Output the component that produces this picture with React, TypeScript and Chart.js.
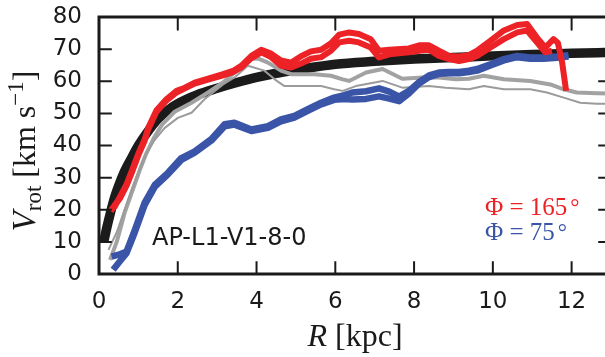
import React, { useEffect, useRef } from "react";
import { Chart, registerables } from "chart.js";

Chart.register(...registerables);

// ---- axes ----
const X_TICKS = [0, 2, 4, 6, 8, 10, 12];
const Y_TICKS = [0, 10, 20, 30, 40, 50, 60, 70, 80];
const X_MIN = 0;
const X_MAX = 13;
const Y_MIN = 0;
const Y_MAX = 80;

// ---- model curve (black) ----
const modelR = [0.12, 0.2, 0.3, 0.4, 0.5, 0.65, 0.8, 1.0, 1.25, 1.5, 1.75, 2.0, 2.5, 3.0, 3.5, 4.0, 4.5, 5.0, 6.0, 7.0, 8.0, 9.0, 10.0, 11.0, 12.0, 13.0];
const modelV = [10, 14.5, 19.5, 24, 27.5, 32, 35.5, 40, 44.5, 48.3, 51, 53, 55.8, 57.8, 59.6, 61.2, 62.5, 63.5, 65.3, 66.2, 66.9, 67.4, 67.9, 68.3, 68.7, 69.0];

// ---- Phi = 165 deg (red, two curves) ----
const redAR = [0.30, 0.40, 0.53, 0.70, 0.83, 1.0, 1.16, 1.25, 1.46, 1.71, 1.97, 2.18, 2.43, 2.77, 3.15, 3.40, 3.61, 3.87, 4.12, 4.37, 4.62, 4.88, 5.13, 5.38, 5.64, 5.89, 6.1, 6.35, 6.6, 6.9, 7.11, 7.37, 7.87, 8.13, 8.38, 8.63, 8.89, 9.14, 9.39, 9.6, 9.94, 10.28, 10.62, 10.87, 11.12, 11.33, 11.54, 11.65, 11.76, 11.86];
const redAV = [20, 21, 24, 28, 32, 37.5, 42, 45.5, 51, 54.4, 57, 58, 59.6, 60.8, 62.2, 63.2, 64.8, 67.9, 69.8, 68.6, 66.5, 65.8, 67.8, 69.3, 69.8, 71.8, 74.5, 75.2, 74.7, 73.1, 69.5, 69.8, 70.2, 71.2, 71.2, 69.5, 67.9, 67.7, 68.1, 69.5, 72.6, 75.8, 77.5, 77.8, 73.6, 70.5, 73.1, 72, 65.8, 57];
const redBR = [0.30, 0.40, 0.53, 0.70, 0.83, 1.0, 1.16, 1.25, 1.46, 1.71, 1.97, 2.18, 2.43, 2.77, 3.15, 3.40, 3.61, 3.87, 4.12, 4.37, 4.62, 4.88, 5.13, 5.38, 5.64, 5.89, 6.1, 6.35, 6.6, 6.9, 7.11, 7.37, 7.87, 8.13, 8.38, 8.63, 8.89, 9.14, 9.39, 9.6, 9.94, 10.28, 10.62, 10.87, 11.12, 11.33, 11.5];
const redBV = [19.5, 21.5, 23.5, 27.5, 31.5, 37, 41.5, 45, 50.5, 54, 56.5, 57.8, 59.3, 60.5, 61.8, 62.8, 64.3, 67.2, 69, 67.5, 64.8, 64.3, 65.5, 67, 67.5, 69.5, 72.1, 72.6, 72.1, 70.5, 67.4, 68.4, 69, 69.5, 69.8, 67.9, 66.9, 66.3, 66.9, 67.9, 70.5, 73.1, 75.2, 75.8, 72.1, 69, 69.5];

// ---- Phi = 75 deg (blue, two curves) ----
const blueAR = [0.32, 0.5, 0.7, 0.91, 1.16, 1.42, 1.75, 2.09, 2.43, 2.85, 3.19, 3.44, 3.87, 4.29, 4.62, 4.96, 5.3, 5.64, 5.97, 6.23, 6.43, 6.78, 7.11, 7.37, 7.62, 7.87, 8.13, 8.38, 8.63, 8.89, 9.14, 9.39, 9.6, 9.94, 10.28, 10.62, 10.95, 11.29, 11.63, 11.92];
const blueAV = [5.4, 6, 7, 13.7, 22.2, 27.8, 31.5, 36.1, 38.2, 42, 46.6, 47.1, 45, 46, 48.1, 49.2, 51.3, 53.3, 54.9, 55.7, 56.5, 56.9, 57.8, 56.8, 55.2, 57, 59.8, 61.8, 62.7, 62.9, 62.9, 63.3, 63.8, 65.3, 66.9, 67.9, 67.4, 67.4, 67.7, 68.1];
const blueBR = [0.36, 0.5, 0.7, 0.91, 1.16, 1.42, 1.75, 2.09, 2.43, 2.85, 3.19, 3.44, 3.87, 4.29, 4.62, 4.96, 5.3, 5.64, 5.97, 6.23, 6.43, 6.78, 7.11, 7.37, 7.62, 7.87, 8.13, 8.38, 8.63, 8.89, 9.14, 9.39, 9.6, 9.94, 10.28, 10.62, 10.95, 11.29, 11.63, 11.92];
const blueBV = [1.3, 3.5, 6.5, 13, 21.5, 27.2, 31, 35.5, 37.8, 41.5, 46, 46.5, 44.5, 45.5, 47.5, 48.7, 50.8, 52.8, 54.2, 54.5, 54.3, 54.5, 55.3, 54.6, 53.8, 56.2, 59.3, 61.3, 62.3, 62.5, 62.5, 62.9, 63.3, 64.9, 66.5, 67.5, 67, 67, 67.3, 67.7];

// ---- gray curves ----
const grayThickR = [0.28, 0.45, 0.65, 0.85, 1.04, 1.2, 1.4, 1.6, 1.92, 2.35, 2.77, 3.15, 3.44, 3.87, 4.03, 4.29, 4.62, 4.88, 5.47, 5.89, 6.19, 6.35, 6.78, 7.2, 7.7, 8.21, 8.63, 9.06, 9.39, 9.77, 10.28, 10.95, 11.46, 11.8, 12.13, 12.64, 13.0];
const grayThickV = [4.4, 10, 19, 26, 32.5, 37.5, 42.5, 46.5, 50.5, 53.3, 56.5, 59.6, 62.7, 66.9, 67.1, 65.8, 63.3, 62.2, 62.2, 61.7, 60.6, 60.1, 62.7, 63.8, 60.8, 61.2, 61.2, 60.6, 60.8, 61.7, 60.6, 60.1, 59, 57.5, 56.5, 56.3, 56.2];
const grayThinR = [0.24, 0.45, 0.65, 0.85, 1.04, 1.2, 1.4, 1.67, 2.0, 2.35, 2.68, 3.15, 3.44, 3.78, 4.2, 4.46, 4.71, 5.13, 5.64, 5.97, 6.19, 6.52, 7.2, 7.7, 8.38, 8.8, 9.39, 9.77, 10.28, 10.95, 11.37, 11.8, 12.22, 12.64, 13.0];
const grayThinV = [7.5, 13, 20, 27, 33, 37.5, 41.5, 45.5, 48.6, 50.2, 54.4, 59, 61.2, 64.8, 63.3, 60.6, 58.5, 58.5, 58.5, 57.5, 57, 58.5, 60.1, 58, 58.5, 58, 57.5, 58.5, 57.5, 57.5, 56.5, 54.9, 53.3, 53, 53];

// ---- texts ----
const RUN_LABEL = "AP-L1-V1-8-0";
const LEGEND_RED = "Φ = 165";
const LEGEND_BLUE = "Φ = 75";

// ---- styles ----
const INK = "#1a1a1a";
const RED = "#ec2227";
const BLUE = "#3a55a7";
const GRAY_THICK = "#a2a2a2";
const GRAY_THIN = "#9b9b9b";
const BLACK = "#1b1b1b";
const TICK_FRACTION = 0.05; // inward tick length as a fraction of the axis span

const SERIF = "'Liberation Serif', 'DejaVu Serif', serif";
const SANS = "'DejaVu Sans', sans-serif";

const pts = (r: number[], v: number[]) => r.map((x, i) => ({ x, y: v[i] }));

// axes frame (spines) as a closed line through the axis limits
const frameData = () => [
  { x: X_MIN, y: Y_MIN },
  { x: X_MAX, y: Y_MIN },
  { x: X_MAX, y: Y_MAX },
  { x: X_MIN, y: Y_MAX },
  { x: X_MIN, y: Y_MIN },
];

// inward tick marks on all four spines, built from the tick lists
const tickData = () => {
  const tx = (X_MAX - X_MIN) * TICK_FRACTION * 0.5;
  const ty = (Y_MAX - Y_MIN) * TICK_FRACTION;
  const out: any[] = [];
  X_TICKS.forEach((v) => {
    out.push({ x: v, y: Y_MIN }, { x: v, y: Y_MIN + ty }, { x: v, y: null });
    out.push({ x: v, y: Y_MAX }, { x: v, y: Y_MAX - ty }, { x: v, y: null });
  });
  Y_TICKS.forEach((v) => {
    out.push({ x: X_MIN, y: v }, { x: X_MIN + tx, y: v }, { x: X_MIN, y: null });
    out.push({ x: X_MAX, y: v }, { x: X_MAX - tx, y: v }, { x: X_MAX, y: null });
  });
  return out;
};

function run(ctx: any, segs: any[], x: number, y: number, measureOnly: boolean) {
  let cx = x;
  for (const s of segs) {
    ctx.font = s.font;
    cx += s.gap || 0;
    if (!measureOnly) ctx.fillText(s.text, cx, y + (s.dy || 0));
    cx += ctx.measureText(s.text).width;
  }
  return cx - x;
}

function drawTexts(ctx: any) {
  ctx.save();
  ctx.fillStyle = INK;
  ctx.textBaseline = "alphabetic";
  ctx.textAlign = "left";

  const xSegs = [
    { text: "R", font: `italic 32px ${SERIF}` },
    { text: " [kpc]", font: `32px ${SERIF}` },
  ];
  const xw = run(ctx, xSegs, 0, 0, true);
  run(ctx, xSegs, 355 - xw / 2, 346, false);

  const ySegs = [
    { text: "V", font: `italic 33px ${SERIF}` },
    { text: "rot", font: `23px ${SERIF}`, dy: 6 },
    { text: " [km s", font: `32px ${SERIF}` },
    { text: "−1", font: `23px ${SERIF}`, dy: -12 },
    { text: "]", font: `32px ${SERIF}` },
  ];
  const yw = run(ctx, ySegs, 0, 0, true);
  ctx.save();
  ctx.translate(35, 151);
  ctx.rotate(-Math.PI / 2);
  run(ctx, ySegs, -yw / 2, 0, false);
  ctx.restore();

  ctx.font = `24px ${SANS}`;
  ctx.fillText(RUN_LABEL, 152, 245);

  ctx.fillStyle = RED;
  run(ctx, [
    { text: LEGEND_RED, font: `25px ${SERIF}` },
    { text: "°", font: `23px ${SERIF}`, gap: 3 },
  ], 485, 215, false);
  ctx.fillStyle = BLUE;
  run(ctx, [
    { text: LEGEND_BLUE, font: `25px ${SERIF}` },
    { text: "°", font: `23px ${SERIF}`, gap: 3 },
  ], 485, 240, false);
  ctx.restore();
}

const textPlugin = {
  id: "annotTexts",
  afterDraw(chart: any) {
    drawTexts(chart.ctx);
  },
};

const zeroPad = (s: any) => {
  s.paddingTop = 0;
  s.paddingBottom = 0;
  s.paddingLeft = 0;
  s.paddingRight = 0;
};

export default function App() {
  const ref = useRef<HTMLCanvasElement | null>(null);

  useEffect(() => {
    document.body.style.margin = "0";
    const line = (data: any, color: string, width: number, order: number, extra: any = {}) => ({
      data,
      borderColor: color,
      backgroundColor: color,
      borderWidth: width,
      pointRadius: 0,
      fill: false,
      tension: 0,
      borderJoinStyle: "round",
      borderCapStyle: "butt",
      order,
      ...extra,
    });
    const chart = new Chart(ref.current as any, {
      type: "line",
      data: {
        datasets: [
          line(frameData(), INK, 3, -2, { borderJoinStyle: "miter", borderCapStyle: "square", clip: false }),
          line(tickData(), INK, 2, -1, { spanGaps: false, clip: false }),
          line(pts(redAR, redAV), RED, 6, 1),
          line(pts(redBR, redBV), RED, 6, 2),
          line(pts(blueAR, blueAV), BLUE, 6.5, 3),
          line(pts(blueBR, blueBV), BLUE, 6.5, 4),
          line(pts(grayThinR, grayThinV), GRAY_THIN, 2, 5),
          line(pts(grayThickR, grayThickV), GRAY_THICK, 4, 6),
          line(pts(modelR, modelV), BLACK, 9.5, 7, { cubicInterpolationMode: "monotone" }),
        ] as any,
      },
      options: {
        animation: false,
        responsive: false,
        layout: { padding: { top: 17, left: 0, right: 0, bottom: 0 } },
        plugins: { legend: { display: false }, tooltip: { enabled: false } },
        scales: {
          x: {
            type: "linear",
            min: X_MIN,
            max: X_MAX,
            grid: { display: false, drawTicks: false },
            border: { display: false },
            ticks: { font: { family: "DejaVu Sans", size: 23 }, color: INK, padding: 14, maxRotation: 0, autoSkip: false },
            afterBuildTicks: (s: any) => {
              s.ticks = X_TICKS.map((v) => ({ value: v }));
            },
            afterFit: (s: any) => {
              s.height = 83;
              zeroPad(s);
            },
          },
          y: {
            type: "linear",
            min: Y_MIN,
            max: Y_MAX,
            grid: { display: false, drawTicks: false },
            border: { display: false },
            ticks: { font: { family: "DejaVu Sans", size: 23 }, color: INK, padding: 17, autoSkip: false },
            afterBuildTicks: (s: any) => {
              s.ticks = Y_TICKS.map((v) => ({ value: v }));
            },
            afterFit: (s: any) => {
              s.width = 99;
              zeroPad(s);
            },
          },
        },
      } as any,
      plugins: [textPlugin],
    });
    return () => chart.destroy();
  }, []);

  return (
    <div style={{ width: 605, height: 357, overflow: "hidden" }}>
      <canvas ref={ref} width={611} height={357} style={{ display: "block" }} />
    </div>
  );
}
